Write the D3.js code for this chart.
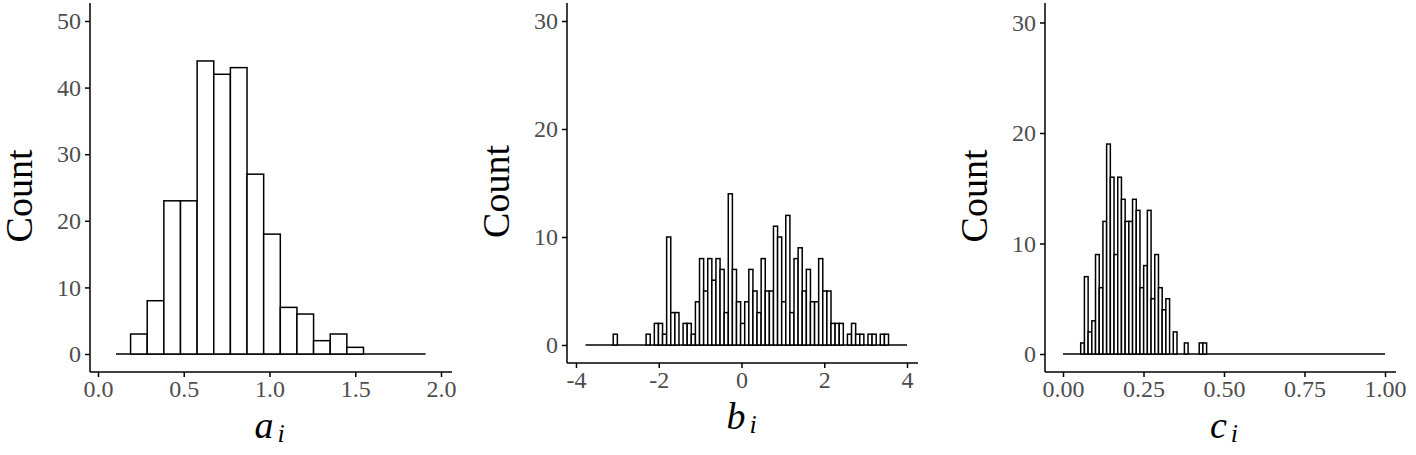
<!DOCTYPE html><html><head><script src="https://d3js.org/d3.v7.min.js"></script>
<style>body{margin:0;background:#fff}</style></head><body><svg id="c" width="1416" height="455"></svg>
<script>
// a_i histogram
const aStart=0.19, aWidth=0.097;
const aCounts=[3,8,23,23,44,42,43,27,18,7,6,2,3,1];
const aBase=[0.105,1.91];
// b_i histogram
const bStart=-3.1, bWidth=0.0993;
const bCounts=[1,0,0,0,0,0,0,0,1,0,2,2,1,10,3,3,0,2,2,1,4,8,5,8,6,8,7,3,14,7,4,2,4,7,5,3,8,5,5,11,10,4,12,3,8,9,5,7,4,4,8,5,5,2,2,2,0,1,2,1,1,0,1,1,0,1,1];
const bBase=[-3.77,4.0];
// c_i histogram
const cStart=0.055, cWidth=0.0115;
const cCounts=[1,7,2,3,9,6,12,19,16,9,16,14,12,12,14,13,6,8,13,5,9,6,4,5,0,2,0,0,1,0,0,0,1,1];
const cBase=[0.0,1.0];
const aTicks=[0,0.5,1,1.5,2], bTicks=[-4,-2,0,2,4], cTicks=[0,0.25,0.5,0.75,1];
const aY=[0,10,20,30,40,50], bY=[0,10,20,30], cY=[0,10,20,30];

const FONT="'Times New Roman','Liberation Serif',Tinos,serif";
const svg=d3.select("#c");
function panel(o){
  const x=d3.scaleLinear().domain(o.xd).range(o.xr);
  const y=d3.scaleLinear().domain([0,o.ymax]).range([o.y0,o.ytop]);
  const g=svg.append("g");
  const bins=o.counts.map((c,i)=>({lo:o.start+i*o.w,c}));
  g.append("line").attr("x1",x(o.base[0])).attr("x2",x(o.base[1])).attr("y1",y(0)).attr("y2",y(0)).attr("stroke","#000").attr("stroke-width",1.5);
  g.selectAll("rect").data(bins.filter(d=>d.c>0)).join("rect")
   .attr("x",d=>x(d.lo)).attr("width",d=>x(d.lo+o.w)-x(d.lo)).attr("y",d=>y(d.c)).attr("height",d=>y(0)-y(d.c))
   .attr("fill","#fff").attr("stroke","#000").attr("stroke-width",1.5);
  const xa=g.append("g").attr("transform",`translate(0,${o.axY})`).call(d3.axisBottom(x).tickValues(o.xt).tickFormat(o.fmt).tickSize(5).tickSizeOuter(0));
  const ya=g.append("g").attr("transform",`translate(${o.axX},0)`).call(d3.axisLeft(y).tickValues(o.yt).tickSize(5).tickSizeOuter(0));
  xa.select(".domain").attr("d",`M${o.axX},0H${o.xr[1]+11}`);
  ya.select(".domain").attr("d",`M0,${o.axY}V3`);
  [xa,ya].forEach(a=>{a.selectAll("path,line").attr("stroke","#000").attr("stroke-width",1.5);
    a.selectAll("text").attr("font-family",FONT).attr("font-size",24).attr("fill","#4d4d4d");});
  ya.selectAll("text").attr("x",-9);
  xa.selectAll("text").attr("y",8);
  g.append("text").attr("transform",`translate(${o.axX-58},${(o.axY)/2+10}) rotate(-90)`).attr("text-anchor","middle")
   .attr("font-family",FONT).attr("font-size",38).text("Count");
  const t=g.append("text").attr("x",(o.xr[0]+o.xr[1])/2).attr("y",o.axY+66).attr("text-anchor","middle")
   .attr("font-family",FONT).attr("font-size",38).attr("font-style","italic");
  t.append("tspan").text(o.lab);
  t.append("tspan").attr("font-size",26).attr("dx",4).attr("dy",4).text("i");
}
panel({xd:[0,2],xr:[98,441],ymax:50,y0:354,ytop:21,counts:aCounts,start:aStart,w:aWidth,base:aBase,xt:aTicks,yt:aY,fmt:d3.format(".1f"),axX:90,axY:372,lab:"a"});
panel({xd:[-4,4],xr:[576,907],ymax:30,y0:345,ytop:21,counts:bCounts,start:bStart,w:bWidth,base:bBase,xt:bTicks,yt:bY,fmt:d=>d<0?"-"+Math.abs(d):d,axX:567,axY:363,lab:"b"});
panel({xd:[0,1],xr:[1063,1385],ymax:30,y0:354,ytop:22.5,counts:cCounts,start:cStart,w:cWidth,base:cBase,xt:cTicks,yt:cY,fmt:d3.format(".2f"),axX:1045,axY:372,lab:"c"});
</script></body></html>
